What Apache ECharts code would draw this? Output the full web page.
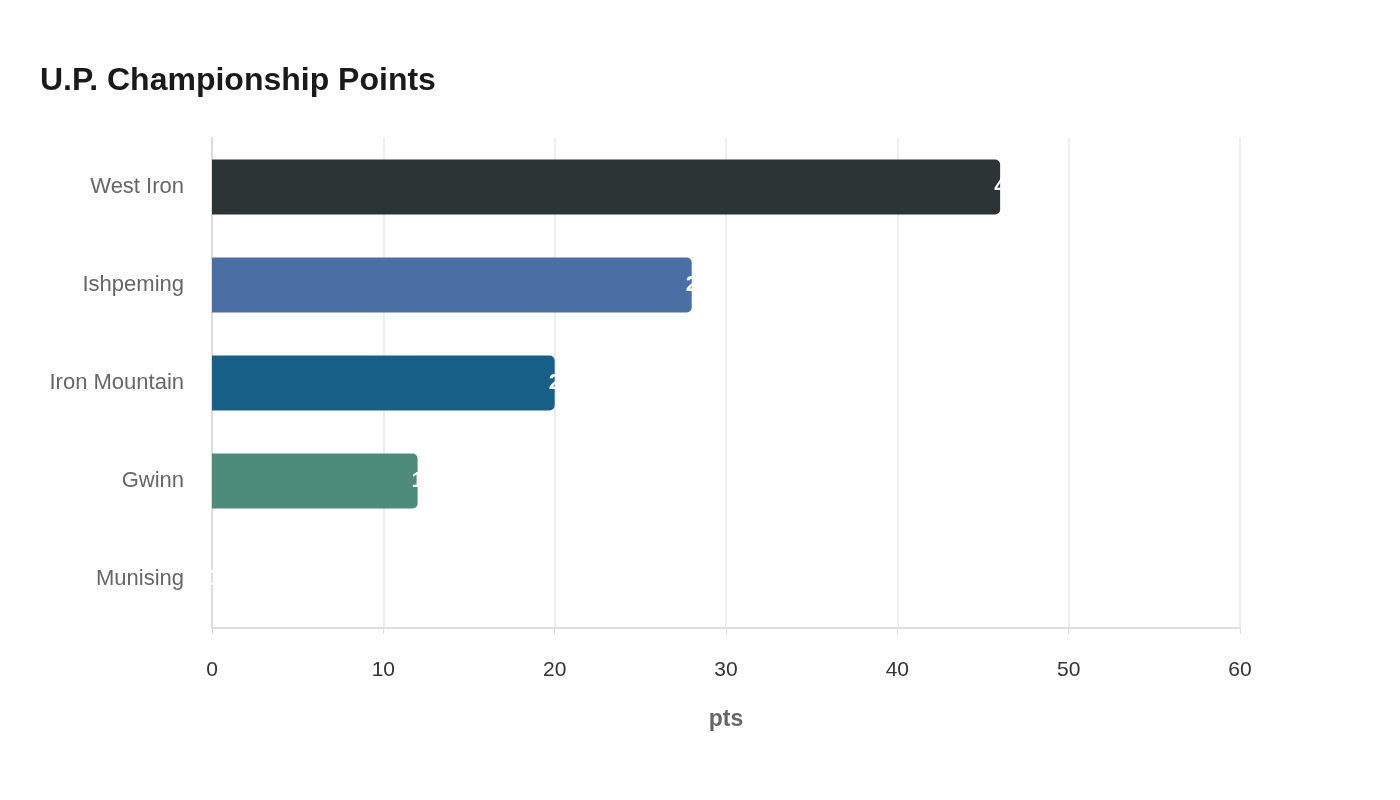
<!DOCTYPE html>
<html>
<head>
<meta charset="utf-8">
<title>U.P. Championship Points</title>
<script src="https://cdn.jsdelivr.net/npm/echarts@6/dist/echarts.min.js"></script>
<style>
  html, body { margin: 0; padding: 0; background: #fff; }
  #chart { width: 1400px; height: 800px; }
</style>
</head>
<body>
<div id="chart"></div>
<script>
  var teams = ['West Iron', 'Ishpeming', 'Iron Mountain', 'Gwinn', 'Munising']
  var points = [46, 28, 20, 12, 0]
  var colors = ['#2d3436', '#4a6fa5', '#185f87', '#4d8c7a', '#8a9a5b']
  var xTicks = [0, 60, 10]

  var font = "'Liberation Sans', Arial, sans-serif"
  var chart = echarts.init(document.getElementById('chart'))
  chart.setOption({
    textStyle: { fontFamily: font },
    title: {
      text: 'U.P. Championship Points',
      left: 35,
      top: 60,
      textStyle: { fontSize: 32, fontWeight: 'bold', color: '#1a1a1a', fontFamily: font }
    },
    grid: { left: 212, right: 160, top: 138, bottom: 172, containLabel: false },
    xAxis: {
      type: 'value',
      min: xTicks[0],
      max: xTicks[1],
      interval: xTicks[2],
      name: 'pts',
      nameLocation: 'middle',
      nameGap: 80,
      nameTextStyle: { fontSize: 23, fontWeight: 'bold', color: '#666', fontFamily: font },
      axisLine: { show: true, lineStyle: { color: '#dddddd', width: 2 } },
      axisTick: { show: true, length: 6, lineStyle: { color: '#dddddd' } },
      axisLabel: { fontSize: 21, color: '#333', margin: 32, fontFamily: font },
      splitLine: { show: true, lineStyle: { color: '#eeeeee', width: 2 } }
    },
    yAxis: {
      type: 'category',
      inverse: true,
      data: teams,
      axisLine: { show: true, lineStyle: { color: '#dddddd', width: 2 } },
      axisTick: { show: false },
      axisLabel: { fontSize: 22, color: '#666', margin: 28, fontFamily: font, padding: [4, 0, 0, 0] }
    },
    series: [{
      type: 'bar',
      barWidth: 55,
      data: points.map(function (v, i) {
        return { value: v, itemStyle: { color: colors[i] } }
      }),
      itemStyle: { borderRadius: [0, 5, 5, 0] },
      label: {
        show: true,
        position: 'right',
        distance: -6,
        color: '#ffffff',
        fontSize: 22,
        fontWeight: 'bold',
        fontFamily: font
      }
    }]
  })
</script>
</body>
</html>
